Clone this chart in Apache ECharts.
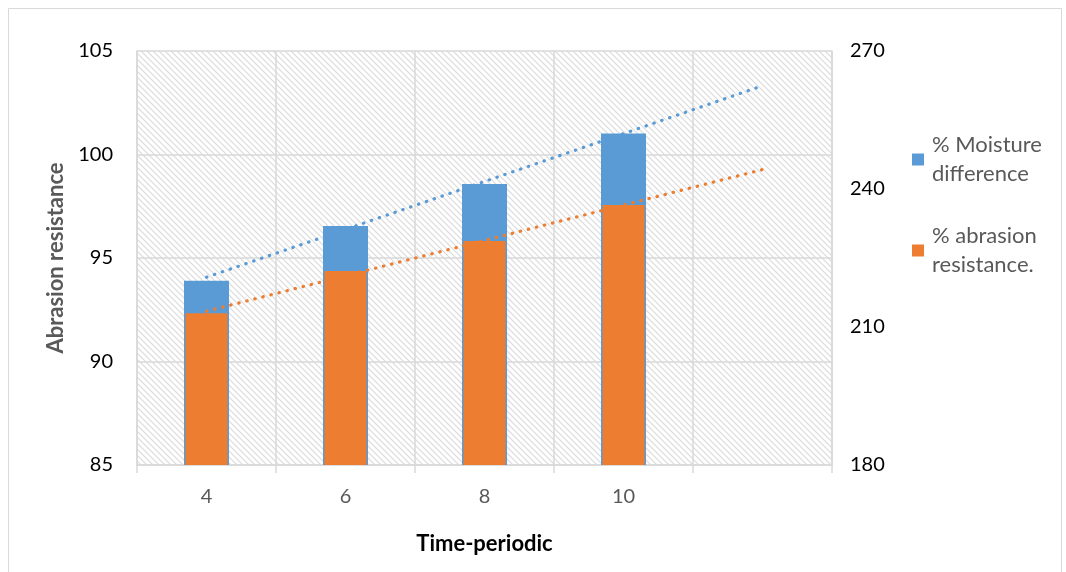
<!DOCTYPE html>
<html>
<head>
<meta charset="utf-8">
<style>
  html, body { margin: 0; padding: 0; background: #fff; }
  #chart { width: 1066px; height: 572px; }
</style>
<script src="https://cdn.jsdelivr.net/npm/echarts@6/dist/echarts.min.js"></script>
</head>
<body>
<div id="chart"></div>
<script>
// Time periods (the last slot is left empty so the trend lines run one step further)
const categories = ['4', '6', '8', '10', ''];
// % Moisture difference
const moistureValues = [93.9, 96.55, 98.57, 101.02];
// % abrasion resistance
const abrasionValues = [92.33, 94.37, 95.82, 97.56];
// Linear trend end points [category index, value]
const moistureTrend = [[0, 94.07], [4, 103.32]];
const abrasionTrend = [[0, 92.43], [4, 99.27]];
// Axis ranges
const leftAxis = { min: 85, max: 105, interval: 5 };
const rightAxis = { min: 180, max: 270, interval: 30 };

const BLUE = '#5b9bd5';
const ORANGE = '#ed7d31';
const FONT = 'Lato, "Open Sans", sans-serif';

// Diagonal hatch fill for the plot area
function hatchPattern() {
  const s = 6;
  const c = document.createElement('canvas');
  c.width = s; c.height = s;
  const g = c.getContext('2d');
  g.fillStyle = '#ffffff';
  g.fillRect(0, 0, s, s);
  g.strokeStyle = '#dadada';
  g.lineWidth = 1.2;
  g.beginPath();
  g.moveTo(-1, -1); g.lineTo(s + 1, s + 1);
  g.moveTo(-1, s - 1); g.lineTo(1, s + 1);
  g.moveTo(s - 1, -1); g.lineTo(s + 1, 1);
  g.stroke();
  return { image: c, repeat: 'repeat' };
}

const chart = echarts.init(document.getElementById('chart'), null, { renderer: 'canvas' });

const dotted = { type: [0.5, 7.8], width: 3.2, cap: 'round' };

chart.setOption({
  animation: false,
  backgroundColor: '#ffffff',
  graphic: [{
    type: 'rect',
    shape: { x: 8.5, y: 8.5, width: 1053, height: 575 },
    style: { fill: 'none', stroke: '#d9d9d9', lineWidth: 1 },
    silent: true
  }],
  grid: {
    left: 137, right: 234, top: 51, bottom: 107,
    show: true,
    backgroundColor: hatchPattern(),
    borderWidth: 0
  },
  legend: {
    orient: 'vertical',
    left: 907,
    top: 111,
    itemWidth: 12,
    itemHeight: 12,
    itemGap: 4,
    icon: 'rect',
    data: ['% Moisture difference', '% abrasion resistance.'],
    formatter: function (name) {
      return name === '% Moisture difference' ? '% Moisture\ndifference' : '% abrasion\nresistance.';
    },
    textStyle: {
      fontFamily: FONT, fontSize: 22, color: '#595959',
      lineHeight: 29, padding: [29, 0, 0, 3]
    }
  },
  xAxis: [{
    type: 'category',
    data: categories,
    boundaryGap: true,
    axisLine: { show: true, lineStyle: { color: '#d9d9d9', width: 1.5 } },
    axisTick: { show: true, length: 8, lineStyle: { color: '#d9d9d9', width: 1.5 } },
    axisLabel: { fontFamily: FONT, fontSize: 20, color: '#595959', margin: 22 },
    splitLine: { show: true, lineStyle: { color: '#d9d9d9', width: 1.5 } },
    name: 'Time-periodic',
    nameLocation: 'middle',
    nameGap: 68,
    nameTextStyle: { fontFamily: FONT, fontSize: 22, fontWeight: 'bold', color: '#000' }
  }, {
    type: 'category',
    data: categories,
    show: false
  }],
  yAxis: [{
    type: 'value',
    min: leftAxis.min, max: leftAxis.max, interval: leftAxis.interval,
    axisLine: { show: true, lineStyle: { color: '#d9d9d9', width: 1.5 } },
    axisTick: { show: false },
    axisLabel: { fontFamily: FONT, fontSize: 20, color: '#000', margin: 24 },
    splitLine: { show: true, lineStyle: { color: '#d9d9d9', width: 1.5 } },
    name: 'Abrasion resistance',
    nameLocation: 'middle',
    nameGap: 68,
    nameRotate: 90,
    nameTextStyle: { fontFamily: FONT, fontSize: 22, fontWeight: 'bold', color: '#595959' }
  }, {
    type: 'value',
    position: 'right',
    min: rightAxis.min, max: rightAxis.max, interval: rightAxis.interval,
    axisLine: { show: true, lineStyle: { color: '#d9d9d9', width: 1.5 } },
    axisTick: { show: false },
    axisLabel: { fontFamily: FONT, fontSize: 20, color: '#000', margin: 18 },
    splitLine: { show: false }
  }],
  series: [{
    name: '% Moisture difference',
    type: 'bar',
    xAxisIndex: 0,
    yAxisIndex: 0,
    barWidth: 45,
    itemStyle: { color: BLUE },
    data: moistureValues,
    z: 2
  }, {
    name: '% abrasion resistance.',
    type: 'bar',
    xAxisIndex: 1,
    yAxisIndex: 0,
    barWidth: 42,
    itemStyle: { color: ORANGE },
    data: abrasionValues,
    z: 3
  }, {
    name: 'moisture trend',
    type: 'line',
    xAxisIndex: 0,
    yAxisIndex: 0,
    data: moistureTrend,
    symbol: 'none',
    lineStyle: Object.assign({ color: BLUE }, dotted),
    z: 4
  }, {
    name: 'abrasion trend',
    type: 'line',
    xAxisIndex: 0,
    yAxisIndex: 0,
    data: abrasionTrend,
    symbol: 'none',
    lineStyle: Object.assign({ color: ORANGE }, dotted),
    z: 4
  }]
});
</script>
</body>
</html>
